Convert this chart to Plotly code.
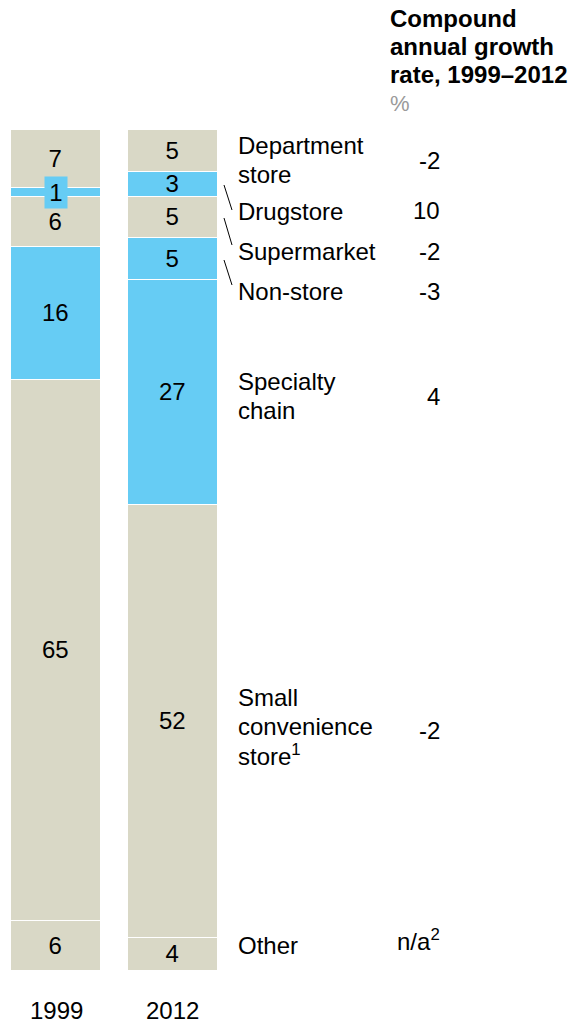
import plotly.graph_objects as go

W, H = 572, 1025
FONT = "Arial, Liberation Sans, sans-serif"
FS = 24
BEIGE = "#D9D8C6"
BLUE = "#66CCF4"

# data, top of bar to bottom
years = ["1999", "2012"]
segments = ["Department store", "Drugstore", "Supermarket", "Non-store",
            "Specialty chain", "Small convenience store", "Other"]
share_1999 = [7, 1, 6, None, 16, 65, 6]
share_2012 = [5, 3, 5, 5, 27, 52, 4]
cagr = ["-2", "10", "-2", "-3", "4", "-2", "n/a<sup>2</sup>"]
seg_labels = [["Department", "store"], ["Drugstore"], ["Supermarket"], ["Non-store"],
              ["Specialty", "chain"], ["Small", "convenience", "store<sup>1</sup>"], ["Other"]]
seg_colors = [BEIGE, BLUE, BEIGE, BLUE, BLUE, BEIGE, BEIGE]

# layout (pixels)
bar_x = [56, 172.5]
bar_w = 90
top_px, bot_px = 130, 971
label_y = [145, 212, 251, 291, 381, 697, 945]   # first line centre
cagr_y = [160, 211, 251, 291, 396, 730, 940]
line_h = 29

# y axis: share units, 0 at top_px, 101 at bot_px
scale = (bot_px - top_px) / 101
r0 = -top_px / scale
r1 = r0 + H / scale

fig = go.Figure()
for i, name in enumerate(segments):
    vals = [share_1999[i], share_2012[i]]
    txt = ["" if (v is None or v < 2) else str(v) for v in vals]
    fig.add_trace(go.Bar(
        x=bar_x, y=vals, width=bar_w, name=name,
        marker=dict(color=seg_colors[i], line=dict(color="white", width=1.5)),
        text=txt, textposition="inside", insidetextanchor="middle",
        textangle=0, textfont=dict(family=FONT, size=FS, color="black"),
        hoverinfo="skip", showlegend=False,
    ))


def py(y):
    return 1 - y / H


def px(x):
    return x / W


ann = []
# small 1999 drugstore value shown in a box
cum = share_1999[0]
ann.append(dict(x=bar_x[0], y=cum + share_1999[1] / 2, xref="x", yref="y",
                text=str(share_1999[1]), showarrow=False, bgcolor=BLUE,
                font=dict(family=FONT, size=FS, color="black"),
                borderpad=1, width=20, height=29, xanchor="center", yanchor="middle"))

for i in range(len(segments)):
    for k, line in enumerate(seg_labels[i]):
        ann.append(dict(x=px(236), y=py(label_y[i] + k * line_h), xref="paper", yref="paper",
                        text=line, showarrow=False, align="left",
                        xanchor="left", yanchor="middle",
                        font=dict(family=FONT, size=FS, color="black")))
    ann.append(dict(x=px(442), y=py(cagr_y[i]), xref="paper", yref="paper",
                    text=cagr[i], showarrow=False, align="right",
                    xanchor="right", yanchor="middle",
                    font=dict(family=FONT, size=FS, color="black")))

header = ["Compound", "annual growth", "rate, 1999–2012"]
for k, line in enumerate(header):
    ann.append(dict(x=px(388), y=py(18 + k * 28.5), xref="paper", yref="paper",
                    text="<b>" + line + "</b>", showarrow=False, align="left",
                    xanchor="left", yanchor="middle",
                    font=dict(family=FONT, size=FS, color="black")))
ann.append(dict(x=px(388), y=py(104), xref="paper", yref="paper",
                text="%", showarrow=False, xanchor="left", yanchor="middle",
                font=dict(family=FONT, size=FS - 2, color="#9A9A9A")))

for i, yr in enumerate(years):
    ann.append(dict(x=bar_x[i], y=py(1010), xref="x", yref="paper", text=yr,
                    showarrow=False, xanchor="center", yanchor="middle",
                    font=dict(family=FONT, size=FS, color="black")))

shapes = []
for (y0, y1) in [(185, 210), (218, 245), (260, 285)]:
    shapes.append(dict(type="line", xref="paper", yref="paper",
                       x0=px(224), x1=px(232), y0=py(y0), y1=py(y1),
                       line=dict(color="black", width=1)))

fig.update_layout(
    width=W, height=H, barmode="stack",
    margin=dict(l=0, r=0, t=0, b=0),
    paper_bgcolor="white", plot_bgcolor="white",
    xaxis=dict(range=[0, W], visible=False, fixedrange=True),
    yaxis=dict(range=[r1, r0], visible=False, fixedrange=True),
    uniformtext=dict(minsize=FS, mode="show"),
    annotations=ann, shapes=shapes, bargap=0,
)

fig.write_html("out.html", config={"displayModeBar": False},
               post_script="document.body.style.margin='0';")
